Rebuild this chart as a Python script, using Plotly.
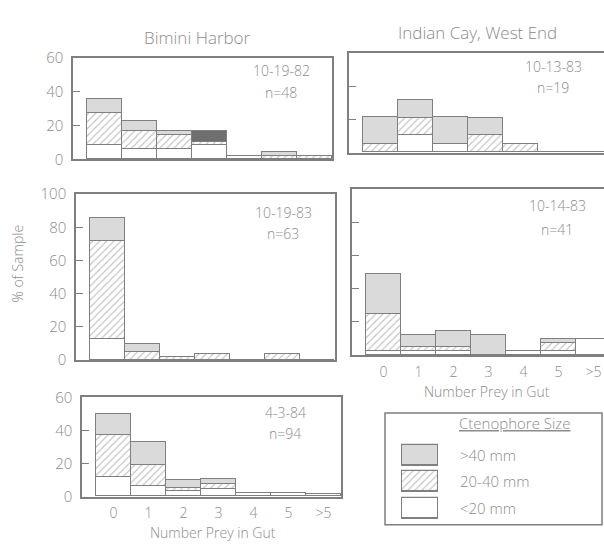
import plotly.graph_objects as go

# ---- data: % of sample by number of prey in gut, stacked by ctenophore size ----
bins = ["0", "1", "2", "3", "4", "5", ">5"]

# Bimini Harbor 10-19-82 (n=48)
bim82_small = [8.3, 6.3, 6.3, 8.3, 2.1, 0.0, 0.0]
bim82_mid = [18.8, 10.4, 8.3, 2.1, 0.0, 2.1, 2.1]
bim82_large = [8.3, 6.2, 2.1, 6.3, 0.0, 2.1, 0.0]

# Indian Cay, West End 10-13-83 (n=19)
ind83a_small = [0.0, 10.5, 5.3, 0.0, 0.0, 0.0, 0.0]
ind83a_mid = [5.3, 10.5, 0.0, 10.5, 5.3, 0.0, 0.0]
ind83a_large = [15.8, 10.5, 15.8, 10.5, 0.0, 0.0, 0.0]

# Bimini Harbor 10-19-83 (n=63)
bim83_small = [12.7, 0.0, 0.0, 0.0, 0.0, 0.0, 0.0]
bim83_mid = [58.7, 4.8, 1.6, 3.2, 0.0, 3.2, 0.0]
bim83_large = [14.3, 4.8, 0.0, 0.0, 0.0, 0.0, 0.0]

# Indian Cay, West End 10-14-83 (n=41)
ind83b_small = [2.4, 2.4, 2.4, 0.0, 2.4, 2.4, 9.8]
ind83b_mid = [22.0, 2.4, 2.4, 0.0, 0.0, 4.9, 0.0]
ind83b_large = [24.4, 7.3, 9.8, 12.2, 0.0, 2.4, 0.0]

# Bimini Harbor 4-3-84 (n=94)
bim84_small = [11.7, 6.4, 3.2, 4.3, 2.1, 2.1, 1.1]
bim84_mid = [25.5, 12.7, 2.1, 3.2, 0.0, 0.0, 0.0]
bim84_large = [12.8, 13.9, 4.3, 3.1, 0.0, 0.0, 0.0]

size_labels = [">40 mm", "20-40 mm", "<20 mm"]

# ---- styling ----
W, H = 604, 553
INK = "#7f7f7f"
TXT = "#8c8c8c"
GRAY = "#dadada"
DARK = "#6f6f6f"
FONT = "Open Sans"
HATCH = dict(shape="/", fgcolor="#858585", bgcolor="white", size=5, solidity=0.22)


def fx(px):
    return px / W


def fy(py):
    return 1 - py / H


def tfont(size):
    return dict(family=FONT, size=size, color=TXT, weight=300)


panels = [
    dict(date="10-19-82", n="n=48", box=(73, 332, 49, 154), ymax=60, ylab=True, xlab=False,
         left=True, text_x=281, text_y=(62, 85),
         data=(bim82_small, bim82_mid, bim82_large),
         large_colors=[GRAY, GRAY, GRAY, DARK, GRAY, GRAY, GRAY]),
    dict(date="10-13-83", n="n=19", box=(349, 604, 44, 147), ymax=60, ylab=False, xlab=False,
         left=False, text_x=553, text_y=(58, 79),
         data=(ind83a_small, ind83a_mid, ind83a_large), large_colors=None),
    dict(date="10-19-83", n="n=63", box=(76, 335, 190, 362), ymax=100, ylab=True, xlab=False,
         left=True, text_x=283, text_y=(209, 231),
         data=(bim83_small, bim83_mid, bim83_large), large_colors=None),
    dict(date="10-14-83", n="n=41", box=(352, 604, 185, 357), ymax=100, ylab=False, xlab=True,
         left=False, text_x=557, text_y=(202, 227),
         data=(ind83b_small, ind83b_mid, ind83b_large), large_colors=None),
    dict(date="4-3-84", n="n=94", box=(82, 341, 401, 504), ymax=60, ylab=True, xlab=True,
         left=True, text_x=285, text_y=(417, 438),
         data=(bim84_small, bim84_mid, bim84_large), large_colors=None),
]

BIN_PX = 35.0   # pixel width of one bin
OFFSET_PX = 14.0  # gap between y-axis and first bin

fig = go.Figure()
layout = {}
annotations = []
xpos = list(range(len(bins)))

for i, p in enumerate(panels, start=1):
    x0, x1, y0, y1 = p["box"]
    xa = "x" if i == 1 else f"x{i}"
    ya = "y" if i == 1 else f"y{i}"
    small, mid, large = p["data"]
    line = dict(color=INK, width=1.4)

    fig.add_trace(go.Bar(x=xpos, y=small, xaxis=xa, yaxis=ya, name=size_labels[2],
                         marker=dict(color="white", line=line)))
    fig.add_trace(go.Bar(x=xpos, y=mid, xaxis=xa, yaxis=ya, name=size_labels[1],
                         marker=dict(color="white", pattern=HATCH, line=line)))
    fig.add_trace(go.Bar(x=xpos, y=large, xaxis=xa, yaxis=ya, name=size_labels[0],
                         marker=dict(color=p["large_colors"] or GRAY, line=line)))

    lo = -0.5 - OFFSET_PX / BIN_PX
    hi = lo + (x1 - x0) / BIN_PX
    xkey = "xaxis" if i == 1 else f"xaxis{i}"
    ykey = "yaxis" if i == 1 else f"yaxis{i}"
    layout[xkey] = dict(
        domain=[fx(x0), fx(x1)], anchor=ya, range=[lo, hi], color=TXT,
        showline=True, linecolor=INK, linewidth=1.5, mirror=True,
        showgrid=False, zeroline=False, ticks="",
        tickvals=xpos, ticktext=bins, showticklabels=p["xlab"],
        ticklabelstandoff=3, tickfont=tfont(14),
    )
    layout[ykey] = dict(
        domain=[fy(y1), fy(y0)], anchor=xa, range=[0, p["ymax"]], color=TXT,
        showline=True, linecolor=INK, linewidth=1.5, mirror=p["left"],
        showgrid=False, zeroline=False,
        tickvals=list(range(0, p["ymax"] + 1, 20)), ticks="inside", ticklen=7,
        tickcolor=INK, tickwidth=1.4, showticklabels=p["ylab"],
        ticklabelstandoff=5, tickfont=tfont(15),
    )

    annotations.append(dict(x=fx(p["text_x"]), y=fy(p["text_y"][0]), xref="paper", yref="paper",
                            text=p["date"], showarrow=False, xanchor="center", yanchor="middle",
                            font=tfont(14)))
    annotations.append(dict(x=fx(p["text_x"]), y=fy(p["text_y"][1]), xref="paper", yref="paper",
                            text=p["n"], showarrow=False, xanchor="center", yanchor="middle",
                            font=tfont(14)))

# ---- legend key: each swatch is a single full-size bar in a tiny axis ----
swatch_styles = [
    dict(color=GRAY),
    dict(color="white", pattern=HATCH),
    dict(color="white"),
]
swatch_rows = [(450, 472), (477, 499), (505, 527)]
for k, (style, (top, bot)) in enumerate(zip(swatch_styles, swatch_rows), start=6):
    fig.add_trace(go.Bar(
        x=[0], y=[1], xaxis=f"x{k}", yaxis=f"y{k}", width=1,
        marker=dict(line=dict(color=INK, width=1.4), **style), hoverinfo="skip",
    ))
    layout[f"xaxis{k}"] = dict(domain=[fx(400), fx(440)], anchor=f"y{k}",
                               range=[-0.55, 0.55], visible=False)
    layout[f"yaxis{k}"] = dict(domain=[fy(bot + 1), fy(top - 1)], anchor=f"x{k}",
                               range=[-0.05, 1.05], visible=False)

annotations.append(dict(x=fx(457), y=fy(427), xref="paper", yref="paper",
                        text="<u>Ctenophore Size</u>", showarrow=False,
                        xanchor="left", yanchor="middle", font=tfont(15)))
for lab, (top, bot) in zip(size_labels, swatch_rows):
    annotations.append(dict(x=fx(458), y=fy((top + bot) / 2), xref="paper", yref="paper", text=lab,
                            showarrow=False, xanchor="left", yanchor="middle", font=tfont(15)))

# ---- titles and axis captions ----
annotations += [
    dict(x=fx(197), y=fy(28), xref="paper", yref="paper", text="Bimini Harbor",
         showarrow=False, xanchor="center", yanchor="middle", font=tfont(17)),
    dict(x=fx(477), y=fy(22), xref="paper", yref="paper", text="Indian Cay, West End",
         showarrow=False, xanchor="center", yanchor="middle", font=tfont(17)),
    dict(x=fx(18), y=fy(262), xref="paper", yref="paper", text="% of Sample", textangle=-90,
         showarrow=False, xanchor="center", yanchor="middle", font=tfont(14)),
    dict(x=fx(213), y=fy(541), xref="paper", yref="paper", text="Number Prey in Gut",
         showarrow=False, xanchor="center", yanchor="middle", font=tfont(14)),
    dict(x=fx(487), y=fy(395), xref="paper", yref="paper", text="Number Prey in Gut",
         showarrow=False, xanchor="center", yanchor="middle", font=tfont(14)),
]

shapes = [dict(type="rect", xref="paper", yref="paper", x0=fx(385), x1=fx(602), y0=fy(533), y1=fy(417),
               line=dict(color=INK, width=1.5), fillcolor="rgba(0,0,0,0)")]

fig.update_layout(
    width=W, height=H, margin=dict(l=0, r=0, t=0, b=0),
    paper_bgcolor="white", plot_bgcolor="white",
    barmode="stack", bargap=0, showlegend=False,
    annotations=annotations, shapes=shapes,
    font=dict(family=FONT, color=TXT),
    **layout,
)

fig.write_html("out.html")
